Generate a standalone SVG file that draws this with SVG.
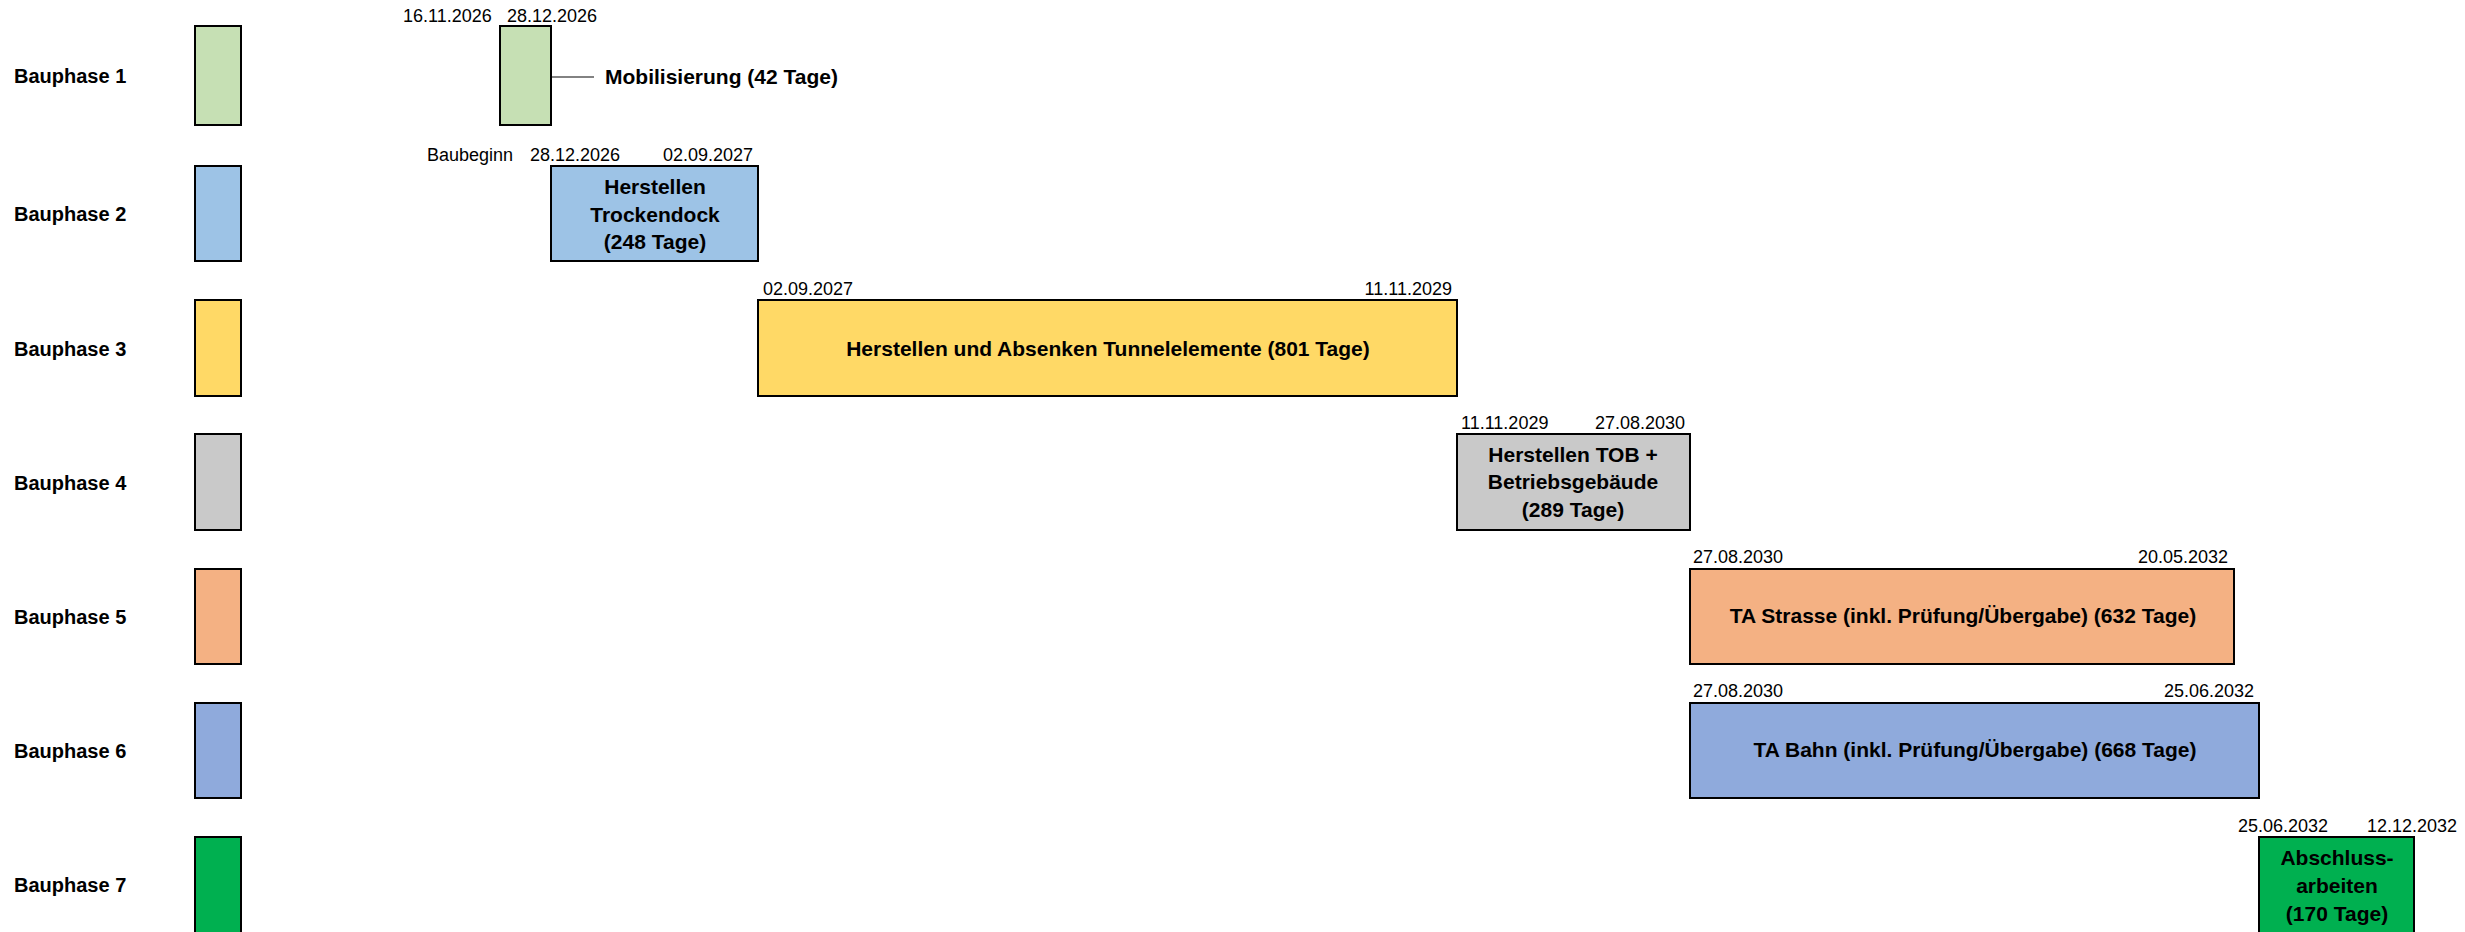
<svg xmlns="http://www.w3.org/2000/svg" width="2465" height="932" viewBox="0 0 2465 932">
<style>
  text { font-family: "Liberation Sans", Arial, sans-serif; fill: #000; }
  .phase { font-size: 20px; font-weight: bold; }
  .lbl { font-size: 21px; font-weight: bold; text-anchor: middle; }
  .side { font-size: 21px; font-weight: bold; }
  .date { font-size: 18px; }
  .end { text-anchor: end; }
  .box { stroke: #000; stroke-width: 2; }
  .bg { fill: #FFFFFF; stroke: none; }
  .c1 { fill: #C6E0B4; }
  .c2 { fill: #9DC3E6; }
  .c3 { fill: #FFD966; }
  .c4 { fill: #C9C9C9; }
  .c5 { fill: #F4B183; }
  .c6 { fill: #8FAADC; }
  .c7 { fill: #00B050; }
  .conn { stroke: #595959; stroke-width: 1.5; fill: none; }
</style>
<rect class="bg" x="0" y="0" width="2465" height="932"/>

<g id="legend">
  <g id="legend-1"><text class="phase" x="14" y="83">Bauphase 1</text><rect class="box c1" x="195" y="26" width="46" height="99"/></g>
  <g id="legend-2"><text class="phase" x="14" y="221">Bauphase 2</text><rect class="box c2" x="195" y="166" width="46" height="95"/></g>
  <g id="legend-3"><text class="phase" x="14" y="356">Bauphase 3</text><rect class="box c3" x="195" y="300" width="46" height="96"/></g>
  <g id="legend-4"><text class="phase" x="14" y="490">Bauphase 4</text><rect class="box c4" x="195" y="434" width="46" height="96"/></g>
  <g id="legend-5"><text class="phase" x="14" y="624">Bauphase 5</text><rect class="box c5" x="195" y="569" width="46" height="95"/></g>
  <g id="legend-6"><text class="phase" x="14" y="758">Bauphase 6</text><rect class="box c6" x="195" y="703" width="46" height="95"/></g>
  <g id="legend-7"><text class="phase" x="14" y="892">Bauphase 7</text><rect class="box c7" x="195" y="837" width="46" height="97"/></g>
</g>

<g id="connectors">
  <line class="conn" x1="551" y1="77" x2="594" y2="77"/>
</g>

<g id="bar-1">
  <text class="date" x="403" y="22">16.11.2026</text>
  <text class="date" x="507" y="22">28.12.2026</text>
  <rect class="box c1" x="500" y="26" width="51" height="99"/>
  <text class="side" x="605" y="84">Mobilisierung (42 Tage)</text>
</g>

<g id="bar-2">
  <text class="date" x="427" y="161" font-size="17">Baubeginn</text>
  <text class="date" x="530" y="161">28.12.2026</text>
  <text class="date end" x="753" y="161">02.09.2027</text>
  <rect class="box c2" x="551" y="166" width="207" height="95"/>
  <text class="lbl" x="655" y="194">Herstellen</text>
  <text class="lbl" x="655" y="222">Trockendock</text>
  <text class="lbl" x="655" y="249">(248 Tage)</text>
</g>

<g id="bar-3">
  <text class="date" x="763" y="295">02.09.2027</text>
  <text class="date end" x="1452" y="295">11.11.2029</text>
  <rect class="box c3" x="758" y="300" width="699" height="96"/>
  <text class="lbl" x="1108" y="356">Herstellen und Absenken Tunnelelemente (801 Tage)</text>
</g>

<g id="bar-4">
  <text class="date" x="1461" y="429">11.11.2029</text>
  <text class="date end" x="1685" y="429">27.08.2030</text>
  <rect class="box c4" x="1457" y="434" width="233" height="96"/>
  <text class="lbl" x="1573" y="462">Herstellen TOB +</text>
  <text class="lbl" x="1573" y="489">Betriebsgebäude</text>
  <text class="lbl" x="1573" y="517">(289 Tage)</text>
</g>

<g id="bar-5">
  <text class="date" x="1693" y="563">27.08.2030</text>
  <text class="date end" x="2228" y="563">20.05.2032</text>
  <rect class="box c5" x="1690" y="569" width="544" height="95"/>
  <text class="lbl" x="1963" y="623">TA Strasse (inkl. Prüfung/Übergabe) (632 Tage)</text>
</g>

<g id="bar-6">
  <text class="date" x="1693" y="697">27.08.2030</text>
  <text class="date end" x="2254" y="697">25.06.2032</text>
  <rect class="box c6" x="1690" y="703" width="569" height="95"/>
  <text class="lbl" x="1975" y="757">TA Bahn (inkl. Prüfung/Übergabe) (668 Tage)</text>
</g>

<g id="bar-7">
  <text class="date" x="2238" y="832">25.06.2032</text>
  <text class="date" x="2367" y="832">12.12.2032</text>
  <rect class="box c7" x="2259" y="837" width="155" height="97"/>
  <text class="lbl" x="2337" y="865">Abschluss-</text>
  <text class="lbl" x="2337" y="893">arbeiten</text>
  <text class="lbl" x="2337" y="921">(170 Tage)</text>
</g>
</svg>
